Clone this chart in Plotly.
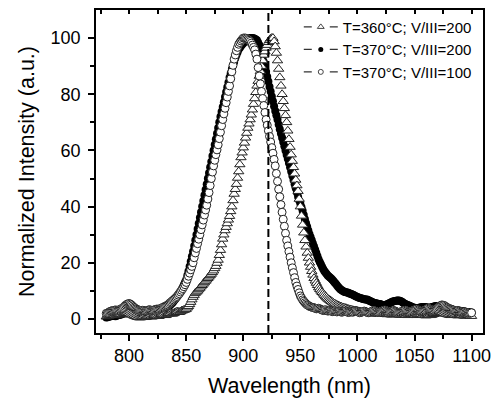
import plotly.graph_objects as go

# wavelength grid (nm), 1 nm sampling
wavelength = list(range(780, 1101))

# T=360°C; V/III=200 (open triangles)
t360_v200 = [
    0.8, 0.9, 1.0, 1.2, 1.3, 1.4, 1.5, 1.3, 1.2, 1.4,
    1.6, 1.7, 1.8, 1.6, 1.5, 1.7, 1.9, 2.0, 2.2, 2.1,
    2.0, 1.8, 1.6, 1.4, 1.2, 1.0, 0.9, 0.7, 0.6, 0.5,
    0.5, 0.6, 0.8, 0.7, 0.6, 0.7, 0.9, 1.0, 1.0, 0.9,
    0.8, 0.9, 1.1, 1.2, 1.3, 1.1, 1.0, 1.2, 1.4, 1.5,
    1.6, 1.4, 1.3, 1.5, 1.7, 1.8, 2.0, 1.9, 1.8, 2.0,
    2.2, 2.4, 2.6, 2.5, 2.4, 2.6, 2.9, 3.0, 3.2, 3.3,
    3.5, 4.0, 4.5, 5.2, 6.0, 6.9, 7.8, 8.5, 9.2, 9.6,
    10.0, 10.5, 11.0, 11.5, 12.0, 12.5, 13.0, 13.5, 14.0, 14.5,
    15.0, 15.5, 16.0, 16.6, 17.2, 18.0, 18.8, 19.9, 21.0, 22.7,
    24.5, 26.5, 28.5, 30.0, 31.5, 32.7, 34.0, 35.3, 36.6, 38.3,
    40.0, 42.2, 44.5, 46.2, 48.0, 50.2, 52.5, 55.0, 57.5, 59.2,
    61.0, 62.7, 64.5, 66.2, 68.0, 69.5, 71.0, 72.7, 74.5, 76.5,
    78.5, 80.7, 83.0, 84.7, 86.5, 88.2, 90.0, 92.0, 94.0, 95.2,
    96.5, 97.5, 98.5, 99.2, 99.8, 100.0, 100.0, 98.8, 97.0, 94.7,
    92.0, 89.0, 86.0, 83.0, 80.0, 77.5, 75.0, 72.5, 70.0, 67.0,
    64.0, 61.2, 58.5, 56.2, 54.0, 51.7, 49.5, 47.5, 45.5, 42.7,
    40.0, 36.7, 33.5, 30.7, 28.0, 25.7, 23.5, 21.7, 20.0, 18.5,
    17.0, 15.7, 14.5, 13.6, 12.8, 12.0, 11.2, 10.6, 10.0, 9.5,
    9.0, 8.5, 8.0, 7.6, 7.2, 6.9, 6.6, 6.3, 6.0, 5.7,
    5.5, 5.2, 5.0, 4.8, 4.6, 4.4, 4.3, 4.1, 4.0, 3.9,
    3.8, 3.6, 3.5, 3.4, 3.3, 3.2, 3.1, 3.0, 3.0, 2.9,
    2.8, 2.7, 2.6, 2.6, 2.5, 2.4, 2.3, 2.4, 2.5, 2.3,
    2.2, 2.1, 2.0, 2.1, 2.2, 2.0, 1.9, 1.8, 1.8, 1.9,
    2.0, 1.8, 1.7, 1.8, 1.9, 1.7, 1.6, 1.7, 1.8, 1.6,
    1.5, 1.6, 1.7, 1.8, 1.9, 1.7, 1.6, 1.5, 1.4, 1.5,
    1.7, 1.6, 1.5, 1.4, 1.3, 1.4, 1.6, 1.7, 1.8, 1.6,
    1.5, 1.4, 1.3, 1.4, 1.5, 1.6, 1.7, 1.5, 1.4, 1.3,
    1.2, 1.3, 1.5, 1.4, 1.3, 1.4, 1.6, 1.7, 1.9, 2.0,
    2.2, 2.3, 2.5, 2.4, 2.3, 2.1, 2.0, 1.8, 1.7, 1.6,
    1.5, 1.4, 1.3, 1.4, 1.6, 1.5, 1.4, 1.3, 1.2, 1.3,
    1.5, 1.4, 1.3, 1.2, 1.1, 1.2, 1.4, 1.3, 1.2, 1.1,
    1.0,
]

# T=370°C; V/III=200 (filled circles)
t370_v200 = [
    0.5, 0.6, 0.8, 0.9, 1.0, 1.1, 1.2, 1.1, 1.0, 1.1,
    1.3, 1.4, 1.5, 1.6, 1.8, 2.0, 2.2, 2.4, 2.6, 2.7,
    2.8, 2.7, 2.5, 2.2, 2.0, 1.8, 1.6, 1.5, 1.4, 1.4,
    1.5, 1.4, 1.3, 1.4, 1.5, 1.6, 1.7, 1.7, 1.6, 1.7,
    1.8, 1.9, 2.0, 2.1, 2.2, 2.3, 2.5, 2.6, 2.8, 3.0,
    3.2, 3.4, 3.6, 3.9, 4.2, 4.6, 5.0, 5.4, 5.8, 6.3,
    6.8, 7.4, 8.0, 8.6, 9.2, 9.8, 10.5, 11.3, 12.2, 13.1,
    14.0, 15.5, 17.0, 18.7, 20.5, 22.2, 24.0, 26.0, 28.0, 30.0,
    32.0, 34.0, 36.0, 38.0, 40.0, 42.0, 44.0, 46.0, 48.0, 50.0,
    52.0, 54.0, 56.0, 58.0, 60.0, 62.0, 64.0, 66.0, 68.0, 70.0,
    72.0, 73.8, 75.5, 77.2, 79.0, 80.8, 82.5, 84.2, 86.0, 87.5,
    89.0, 90.3, 91.5, 92.8, 94.0, 95.0, 96.0, 96.6, 97.2, 97.7,
    98.2, 98.6, 99.0, 99.3, 99.6, 99.8, 100.0, 100.0, 100.0, 99.9,
    99.8, 99.5, 99.2, 98.4, 97.5, 96.2, 94.7, 93.1, 91.5, 89.8,
    88.0, 86.2, 84.5, 82.7, 81.0, 79.2, 77.5, 75.7, 74.0, 72.5,
    71.0, 69.2, 67.5, 66.0, 64.5, 63.0, 61.5, 60.0, 58.5, 57.0,
    55.5, 54.0, 52.5, 51.0, 49.5, 48.0, 46.5, 45.0, 43.5, 42.2,
    41.0, 39.8, 38.5, 37.0, 35.5, 34.1, 32.8, 31.5, 30.2, 29.1,
    28.0, 26.9, 25.8, 24.6, 23.5, 22.3, 21.2, 20.3, 19.5, 18.6,
    17.8, 17.1, 16.5, 16.0, 15.5, 15.1, 14.8, 14.4, 14.0, 13.5,
    13.0, 12.5, 12.0, 11.5, 11.0, 10.6, 10.3, 10.0, 9.8, 9.6,
    9.5, 9.4, 9.3, 9.1, 9.0, 8.8, 8.6, 8.4, 8.2, 8.0,
    7.8, 7.6, 7.5, 7.4, 7.3, 7.1, 7.0, 6.9, 6.9, 6.8,
    6.6, 6.4, 6.2, 6.0, 5.8, 5.7, 5.6, 5.5, 5.4, 5.3,
    5.3, 5.1, 5.0, 4.9, 4.9, 5.0, 5.2, 5.4, 5.6, 5.8,
    6.0, 6.2, 6.3, 6.4, 6.5, 6.6, 6.6, 6.5, 6.3, 6.1,
    5.8, 5.5, 5.3, 5.1, 5.0, 4.8, 4.6, 4.4, 4.2, 4.1,
    4.0, 3.9, 3.9, 3.9, 4.0, 4.1, 4.2, 4.3, 4.3, 4.3,
    4.2, 4.1, 4.0, 4.0, 4.1, 4.2, 4.3, 4.4, 4.5, 4.6,
    4.6, 4.6, 4.5, 4.4, 4.3, 4.1, 4.0, 3.9, 3.8, 3.7,
    3.6, 3.5, 3.4, 3.3, 3.3, 3.2, 3.1, 3.0, 3.0, 2.9,
    2.9, 2.8, 2.8, 2.7, 2.6, 2.5, 2.5, 2.4, 2.4, 2.3,
    2.3,
]

# T=370°C; V/III=100 (open circles)
t370_v100 = [
    2.0, 2.1, 2.3, 2.6, 2.8, 2.9, 3.0, 3.1, 3.2, 3.1,
    3.0, 3.2, 3.4, 3.6, 3.8, 4.1, 4.5, 4.9, 5.2, 5.4,
    5.5, 5.3, 5.0, 4.6, 4.2, 3.9, 3.6, 3.4, 3.2, 3.1,
    3.0, 3.0, 3.1, 3.0, 2.8, 2.9, 3.0, 3.2, 3.3, 3.1,
    3.0, 3.1, 3.2, 3.4, 3.5, 3.5, 3.4, 3.6, 3.8, 4.0,
    4.2, 4.4, 4.6, 4.8, 5.0, 5.4, 5.8, 6.1, 6.5, 6.8,
    7.2, 7.6, 8.0, 8.5, 9.0, 9.6, 10.2, 10.8, 11.5, 12.2,
    13.0, 14.1, 15.2, 16.3, 17.5, 18.7, 20.0, 21.8, 23.5, 25.1,
    26.8, 28.4, 30.0, 31.8, 33.5, 35.2, 37.0, 38.8, 40.5, 42.7,
    45.0, 47.5, 50.0, 52.3, 54.5, 56.5, 58.5, 60.2, 62.0, 64.2,
    66.5, 68.8, 71.0, 73.0, 75.0, 77.0, 79.0, 81.0, 83.0, 85.5,
    88.0, 90.3, 92.5, 94.0, 95.5, 96.7, 97.8, 98.4, 99.0, 99.5,
    100.0, 100.0, 100.0, 99.8, 99.5, 99.2, 98.8, 98.2, 97.5, 96.7,
    95.8, 94.3, 92.5, 89.5, 86.5, 83.7, 81.0, 78.5, 76.0, 73.5,
    71.0, 69.0, 67.0, 65.0, 63.0, 61.0, 59.0, 56.8, 54.5, 51.8,
    49.0, 46.2, 43.5, 40.7, 38.0, 35.5, 33.0, 30.5, 28.0, 26.0,
    24.0, 22.0, 20.0, 18.2, 16.5, 14.7, 13.0, 11.7, 10.5, 9.3,
    8.2, 7.5, 6.8, 6.3, 5.8, 5.4, 5.0, 4.8, 4.5, 4.3,
    4.2, 4.1, 4.0, 3.8, 3.6, 3.7, 3.8, 3.6, 3.4, 3.2,
    3.0, 3.1, 3.3, 3.0, 2.8, 2.9, 3.0, 2.8, 2.6, 2.7,
    2.9, 2.7, 2.5, 2.6, 2.8, 2.6, 2.4, 2.5, 2.6, 2.7,
    2.8, 2.5, 2.3, 2.4, 2.6, 2.5, 2.4, 2.6, 2.9, 2.8,
    2.6, 2.4, 2.2, 2.3, 2.5, 2.7, 2.8, 2.6, 2.4, 2.3,
    2.2, 2.4, 2.6, 2.8, 3.0, 2.9, 2.7, 2.5, 2.3, 2.4,
    2.5, 2.7, 2.9, 3.1, 3.2, 3.0, 2.8, 2.6, 2.5, 2.6,
    2.7, 2.9, 3.0, 2.8, 2.6, 2.4, 2.3, 2.4, 2.5, 2.7,
    2.8, 3.0, 3.1, 2.9, 2.7, 2.6, 2.5, 2.6, 2.8, 3.0,
    3.2, 3.4, 3.5, 3.2, 3.0, 2.8, 2.7, 2.8, 2.9, 3.1,
    3.3, 3.6, 3.8, 3.6, 3.4, 3.2, 3.0, 3.1, 3.3, 3.5,
    3.8, 4.2, 4.5, 4.8, 5.0, 4.9, 4.8, 4.5, 4.2, 4.0,
    3.8, 3.6, 3.5, 3.3, 3.2, 3.0, 2.8, 2.9, 3.0, 2.8,
    2.7, 2.5, 2.4, 2.5, 2.6, 2.4, 2.3, 2.1, 2.0, 2.1,
    2.2,
]

labels = ["T=360°C; V/III=200", "T=370°C; V/III=200", "T=370°C; V/III=100"]
marker_line_wavelength = 922

x_ticks = [800, 850, 900, 950, 1000, 1050, 1100]
x_minor = [775, 825, 875, 925, 975, 1025, 1075]
x_top_ticks = [775, 800, 825, 850, 875, 900, 925, 950, 975, 1000, 1025, 1050, 1075, 1100]
y_ticks = [0, 20, 40, 60, 80, 100]
y_minor = [10, 30, 50, 70, 90]

FONT = "Liberation Sans, Arial, sans-serif"

fig = go.Figure()

fig.add_trace(go.Scatter(
    x=wavelength, y=t370_v200, mode="markers", showlegend=False,
    marker=dict(symbol="circle", size=8, color="black", line=dict(width=0)),
))
fig.add_trace(go.Scatter(
    x=wavelength, y=t360_v200, mode="markers", showlegend=False,
    marker=dict(symbol="triangle-up", size=9, color="white",
                line=dict(width=1, color="#222")),
))
fig.add_trace(go.Scatter(
    x=wavelength, y=t370_v100, mode="markers", showlegend=False,
    marker=dict(symbol="circle", size=8, color="white",
                line=dict(width=1, color="#222")),
))

leg_styles = [
    dict(symbol="triangle-up-open", size=6, color="#444"),
    dict(symbol="circle", size=5, color="black"),
    dict(symbol="circle-open", size=5, color="#444"),
]
for lab, ms in zip(labels, leg_styles):
    fig.add_trace(go.Scatter(
        x=[None], y=[None], mode="lines+markers", name=lab,
        line=dict(color="#333", width=1.2, dash="8px,18px"),
        marker=ms,
    ))

fig.add_trace(go.Scatter(x=[None], y=[None], xaxis="x2", showlegend=False,
                         hoverinfo="skip"))

fig.add_shape(type="line", xref="x", yref="paper",
              x0=marker_line_wavelength, x1=marker_line_wavelength, y0=0, y1=1,
              line=dict(color="black", width=2, dash="8px,4px"))

# page body adds an 8 px offset; figure sized to fill the rest of the window
fig.update_layout(
    width=491, height=390,
    margin=dict(l=88, r=16, t=2, b=65),
    paper_bgcolor="white", plot_bgcolor="white",
    font=dict(family=FONT, color="black", size=18),
    xaxis=dict(
        range=[771, 1110], tickvals=x_ticks, ticks="outside", ticklen=6,
        tickwidth=1.5, tickcolor="black", automargin=False,
        showline=True, linecolor="black", linewidth=1.5, mirror=True,
        showgrid=False, zeroline=False,
        minor=dict(tickvals=x_minor, ticks="outside", ticklen=4,
                   tickwidth=1.5, tickcolor="black"),
        title=dict(text="Wavelength (nm)", font=dict(size=21.5), standoff=18),
        tickfont=dict(size=18),
    ),
    xaxis2=dict(
        overlaying="x", side="top", matches="x", range=[771, 1110],
        tickvals=x_top_ticks, automargin=False,
        ticks="inside", ticklen=4, tickwidth=1.5, tickcolor="black",
        showticklabels=False, showline=False, showgrid=False, zeroline=False,
    ),
    yaxis=dict(
        range=[-5, 110], tickvals=y_ticks, ticks="outside", ticklen=6,
        tickwidth=1.5, tickcolor="black", automargin=False,
        showline=True, linecolor="black", linewidth=1.5, mirror=True,
        showgrid=False, zeroline=False, ticklabelstandoff=4,
        minor=dict(tickvals=y_minor, ticks="outside", ticklen=4,
                   tickwidth=1.5, tickcolor="black"),
        title=dict(text="Normalized Intensity (a.u.)", font=dict(size=21.5), standoff=10),
        tickfont=dict(size=18),
    ),
    legend=dict(
        x=0.524, y=0.998, xanchor="left", yanchor="top",
        bgcolor="rgba(0,0,0,0)", borderwidth=0,
        font=dict(size=15, family=FONT),
        itemwidth=34, tracegroupgap=0,
    ),
)

fig.write_html("out.html")
